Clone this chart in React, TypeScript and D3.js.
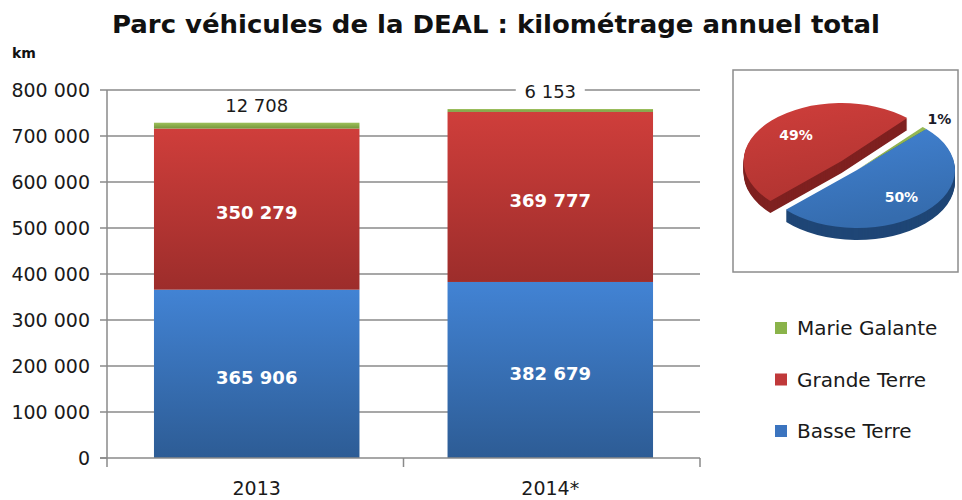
import React from 'react';
import * as d3 from 'd3';

const categories = ['2013', '2014*'];
const seriesNames = ['Basse Terre', 'Grande Terre', 'Marie Galante'];
const basseTerre = [365906, 382679];
const grandeTerre = [350279, 369777];
const marieGalante = [12708, 6153];
const yTicks = [0, 100000, 200000, 300000, 400000, 500000, 600000, 700000, 800000];
const legendOrder = ['Marie Galante', 'Grande Terre', 'Basse Terre'];
const titleText = 'Parc véhicules de la DEAL : kilométrage annuel total';
const pieYearIndex = 1;

const FONT = 'DejaVu Sans, Verdana, sans-serif';
const colors: Record<string, { top: string; bottom: string; side: string; legend: string }> = {
  'Basse Terre': { top: '#4283d4', bottom: '#2d5c95', side: '#1f4676', legend: '#3b74bf' },
  'Grande Terre': { top: '#cf3e3b', bottom: '#9d2d2b', side: '#7f2120', legend: '#c0393a' },
  'Marie Galante': { top: '#9cc05a', bottom: '#76973a', side: '#5b7d25', legend: '#8ab34a' },
};

const fr = d3.formatLocale({ decimal: ',', thousands: '\u00a0', grouping: [3], currency: ['', ''] });
const fmt = fr.format(',');

export default function App() {
  const rows = categories.map((c, i) => ({
    cat: c,
    'Basse Terre': basseTerre[i],
    'Grande Terre': grandeTerre[i],
    'Marie Galante': marieGalante[i],
  }));
  const stack = d3.stack<any>().keys(seriesNames);
  const stacked = stack(rows);

  const x = d3.scaleBand<string>().domain(categories).range([107, 700]).paddingInner(0.3).paddingOuter(0.16);
  const y = d3.scaleLinear().domain([0, 800000]).range([458, 90]);

  // pie (2014)
  const pieVals = seriesNames.map((s) => (rows[pieYearIndex] as any)[s] as number);
  const pieTotal = d3.sum(pieVals);
  const pie = d3.pie<number>().sort(null).startAngle(Math.PI / 4).endAngle(Math.PI / 4 + 2 * Math.PI);
  const arcs = pie(pieVals);
  const arc = d3.arc<any>().innerRadius(0).outerRadius(100);
  const cx = 857, cy = 170, sx = 0.98, sy = 0.58, depth = 12;
  const explode = [0, 22, 0];
  const drawOrder = [1, 2, 0];
  const labelR = [65, 65, 122];

  return (
    <svg width={962} height={500} style={{ position: 'absolute', left: 0, top: 0, background: '#fff' }}>
      <defs>
        {seriesNames.map((s, i) => (
          <linearGradient key={s} id={`bar${i}`} x1="0" y1="0" x2="0" y2="1">
            <stop offset="0" stopColor={colors[s].top} />
            <stop offset="1" stopColor={colors[s].bottom} />
          </linearGradient>
        ))}
        {seriesNames.map((s, i) => (
          <linearGradient key={s} id={`pie${i}`} x1="0" y1="0" x2="0.3" y2="1">
            <stop offset="0" stopColor={colors[s].top} />
            <stop offset="1" stopColor={d3.interpolateRgb(colors[s].top, colors[s].bottom)(0.6)} />
          </linearGradient>
        ))}
      </defs>

      {/* title */}
      <text x={112} y={33} fontFamily={FONT} fontWeight="bold" fontSize={24} fill="#111"
        textLength={768} lengthAdjust="spacingAndGlyphs">{titleText}</text>
      <text x={12} y={58} fontFamily={FONT} fontWeight="bold" fontSize={14} fill="#111">km</text>

      {/* gridlines and y axis */}
      {yTicks.map((t) => (
        <g key={t}>
          {t > 0 && <line x1={107} x2={700} y1={y(t)} y2={y(t)} stroke="#8a8a8a" strokeWidth={1.5} />}
          <line x1={100} x2={107} y1={y(t)} y2={y(t)} stroke="#8a8a8a" strokeWidth={1.5} />
          <text x={90} y={y(t) + 7} textAnchor="end" fontFamily={FONT} fontSize={19} fill="#1a1a1a">{fmt(t)}</text>
        </g>
      ))}
      <line x1={107} x2={107} y1={90} y2={y(0)} stroke="#8a8a8a" strokeWidth={1.5} />

      {/* bars */}
      {stacked.map((layer, si) => (
        <g key={layer.key}>
          {layer.map((d, ci) => (
            <rect key={ci} x={x(categories[ci])} width={x.bandwidth()} y={y(d[1])}
              height={y(d[0]) - y(d[1])} fill={`url(#bar${si})`} />
          ))}
        </g>
      ))}

      {/* x axis */}
      <line x1={100} x2={700} y1={y(0)} y2={y(0)} stroke="#8a8a8a" strokeWidth={1.5} />
      {[107, (x(categories[0])! + x.bandwidth() + x(categories[1])!) / 2, 700].map((px, i) => (
        <line key={i} x1={px} x2={px} y1={y(0)} y2={y(0) + 9} stroke="#8a8a8a" strokeWidth={1.5} />
      ))}
      {categories.map((c) => (
        <text key={c} x={x(c)! + x.bandwidth() / 2} y={495} textAnchor="middle" fontFamily={FONT} fontSize={19} fill="#1a1a1a">{c}</text>
      ))}

      {/* inner labels */}
      {stacked.slice(0, 2).map((layer) =>
        layer.map((d, ci) => (
          <text key={layer.key + ci} x={x(categories[ci])! + x.bandwidth() / 2} y={y((d[0] + d[1]) / 2) + 10}
            textAnchor="middle" fontFamily={FONT} fontWeight="bold" fontSize={18} fill="#fff">
            {fmt(d[1] - d[0])}
          </text>
        ))
      )}
      {/* top labels */}
      {stacked[2].map((d, ci) => {
        const label = fmt(d[1] - d[0]);
        const w = label.length * 11.4 + 12;
        const cxl = x(categories[ci])! + x.bandwidth() / 2;
        const base = y(d[1]) - 11;
        return (
          <g key={ci}>
            <rect x={cxl - w / 2} y={base - 18} width={w} height={24} fill="#fff" />
            <text x={cxl} y={base} textAnchor="middle" fontFamily={FONT} fontSize={18} fill="#1a1a1a">{label}</text>
          </g>
        );
      })}

      {/* pie box */}
      <rect x={733} y={70} width={225} height={202} fill="#fff" stroke="#8c8c8c" strokeWidth={1.5} />
      {drawOrder.map((i) => {
        const a = arcs[i];
        const mid = (a.startAngle + a.endAngle) / 2;
        const ox = Math.sin(mid) * explode[i] * sx;
        const oy = -Math.cos(mid) * explode[i] * sy;
        const s = seriesNames[i];
        const layers = d3.range(depth, 0, -1);
        return (
          <g key={i}>
            {layers.map((k) => (
              <path key={k} d={arc(a)!} fill={colors[s].side}
                transform={`translate(${cx + ox},${cy + oy + k}) scale(${sx},${sy})`} />
            ))}
            <path d={arc(a)!} fill={`url(#pie${i})`} transform={`translate(${cx + ox},${cy + oy}) scale(${sx},${sy})`} />
          </g>
        );
      })}
      {arcs.map((a, i) => {
        const mid = (a.startAngle + a.endAngle) / 2;
        const r = labelR[i] + explode[i];
        const lx = cx + Math.sin(mid) * r * sx;
        const ly = cy - Math.cos(mid) * r * sy;
        const pct = Math.round((pieVals[i] / pieTotal) * 100) + '%';
        return (
          <text key={i} x={lx} y={ly + 5} textAnchor="middle" fontFamily={FONT} fontWeight="bold" fontSize={14}
            fill={i === 2 ? '#1a1a2a' : '#fff'}>{pct}</text>
        );
      })}

      {/* legend */}
      {legendOrder.map((s, i) => (
        <g key={s} transform={`translate(775,${328 + i * 51.5})`}>
          <rect x={0} y={-6} width={12} height={12} fill={colors[s].legend} />
          <text x={22} y={7} fontFamily={FONT} fontSize={20} fill="#1a1a1a">{s}</text>
        </g>
      ))}
    </svg>
  );
}
